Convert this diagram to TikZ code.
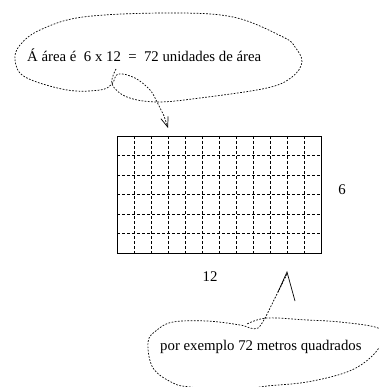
\documentclass[tikz,border=0pt]{standalone}
\usepackage{fontspec}
\setmainfont{Liberation Serif}
\usetikzlibrary{arrows.meta}
\begin{document}
\begin{tikzpicture}[x=1pt,y=-1pt,
  bubble/.style={line width=0.7pt, dash pattern=on 1.7pt off 1.5pt},
  gridline/.style={line width=0.6pt, dash pattern=on 3pt off 2pt},
  lbl/.style={inner sep=0pt, font=\fontsize{14.8}{18}\selectfont},
  tipline/.style={line width=0.7pt}]
\useasboundingbox (0,0) rectangle (379,387);
% grid rectangle
\foreach \i in {1,...,11} \draw[gridline] (117+\i*17,136) -- (117+\i*17,253);
\foreach \j in {1,...,5} \draw[gridline] (117,136+\j*19.5) -- (321,136+\j*19.5);
\node[draw, line width=0.8pt, minimum width=204pt, minimum height=117pt, inner sep=0pt] (area) at (219,194.5) {};
% labels
\node[lbl, anchor=base west] (toptext) at (27,62) {Á área é\ \ 6 x 12\ \ =\ \ 72 unidades de área};
\node[lbl, anchor=base west] (bottext) at (160,350) {por exemplo 72 metros quadrados};
\node[lbl] (six) at (342,190) {6};
\node[lbl] (twelve) at (210,277) {12};
% top bubble with curled tail and arrow
\coordinate (toptip) at (168,128);
\draw[bubble, -{Straight Barb[length=10pt,width=7.5pt,line width=0.7pt]}]
  plot[smooth, tension=0.6] coordinates {
  (116,69) (112,84) (127,97) (157,102) (200,98) (267,88) (292,77) (302,62)
  (295,47) (283,37) (233,17) (167,13) (83,17) (40,30) (20,45) (15,60) (25,77)
  (67,90) (100,90) (112,84) (118,74) (135,78) (150,90) (157,102) (164,116)}
  -- (toptip);
% bottom bubble with curled tail
\coordinate (bottip) at (287,272);
\coordinate (legL) at (278,292);
\coordinate (legR) at (295,301);
\begin{scope}
\clip (0,0) rectangle (379,387);
\draw[bubble] plot[smooth, tension=0.6] coordinates {
  (287,274) (280,288) (273,302) (265,318) (258,328) (250,328) (240,325)
  (207,321) (173,322) (157,330) (148,342) (153,368) (173,383) (190,387)
  (230,391) (267,386) (307,382) (347,372) (370,358) (383,340) (378,328)
  (340,322) (307,320) (267,318) (247,324)};
\end{scope}
\draw[tipline] (legL) -- (bottip) -- (legR);
\end{tikzpicture}
\end{document}
